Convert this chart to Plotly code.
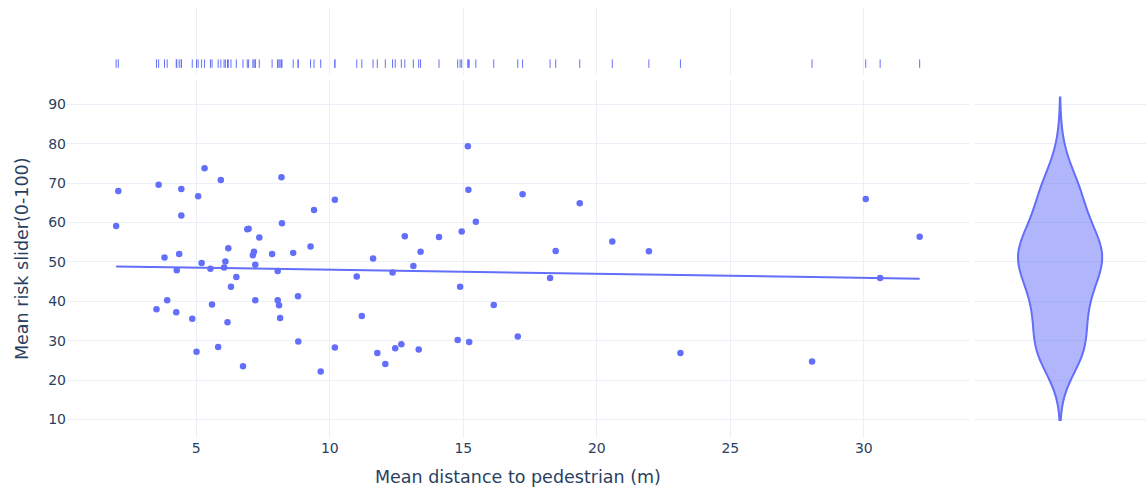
import numpy as np
import pandas as pd
import plotly.express as px
import plotly.graph_objects as go

# Per-participant means: distance to pedestrian (m) and risk slider rating (0-100)
mean_distance = [
    2.08, 2.00, 3.59, 4.44, 5.07, 5.31, 5.92, 8.19, 4.44, 9.41,
    8.21, 6.91, 6.96, 7.36, 6.20, 9.28, 3.81, 4.36, 7.16, 7.12,
    7.84, 8.63, 5.20, 6.09, 7.21, 5.53, 6.04, 4.27, 8.05, 6.50,
    6.30, 3.91, 7.21, 8.05, 8.10, 8.81, 5.59, 3.51, 4.25, 4.85,
    6.17, 8.14, 8.82, 5.01, 5.82, 6.75, 9.66,
    10.19, 10.19, 11.01, 11.20, 11.62, 11.78, 12.08, 12.35, 12.45, 12.68,
    12.81, 13.13, 13.33, 13.40, 14.09, 14.79, 14.88, 14.94, 15.17, 15.19,
    15.22, 15.47, 16.14, 17.04, 17.22,
    18.46, 18.25, 19.36, 20.58, 21.95, 23.13, 28.06, 30.07, 30.61, 32.09,
]
mean_risk = [
    68.0, 59.1, 69.6, 68.5, 66.7, 73.8, 70.8, 71.5, 61.8, 63.2,
    59.8, 58.3, 58.4, 56.2, 53.5, 53.9, 51.1, 52.0, 52.6, 51.7,
    52.0, 52.3, 49.7, 50.1, 49.3, 48.3, 48.6, 47.9, 47.7, 46.2,
    43.7, 40.3, 40.3, 40.3, 39.0, 41.3, 39.2, 38.0, 37.2, 35.6,
    34.7, 35.8, 29.8, 27.2, 28.4, 23.5, 22.2,
    65.8, 28.3, 46.3, 36.3, 50.9, 26.9, 24.1, 47.3, 28.1, 29.1,
    56.5, 49.0, 27.8, 52.6, 56.3, 30.2, 43.7, 57.7, 79.4, 68.3,
    29.7, 60.2, 39.1, 31.1, 67.2,
    52.8, 45.9, 64.9, 55.2, 52.7, 26.9, 24.7, 66.0, 45.9, 56.4,
]

X_COL = "Mean distance to pedestrian (m)"
Y_COL = "Mean risk slider(0-100)"
df = pd.DataFrame({X_COL: mean_distance, Y_COL: mean_risk})

fig = px.scatter(
    df, x=X_COL, y=Y_COL,
    marginal_x="rug", marginal_y="violin",
    template="plotly_white",
    width=1146, height=488,
)
fig.update_traces(marker=dict(size=6.5), selector=dict(type="scatter"))

# Ordinary least-squares trendline over the observed distance range
xs = np.array(mean_distance)
ys = np.array(mean_risk)
slope, intercept = np.polyfit(xs, ys, 1)
x_line = np.sort(xs)
fig.add_trace(
    go.Scatter(
        x=x_line, y=intercept + slope * x_line,
        mode="lines", line=dict(color="#636efa", width=2),
        showlegend=False, hoverinfo="skip",
    ),
    row=1, col=1,
)

fig.update_layout(
    margin=dict(l=67, r=0, t=7, b=50),
    font=dict(family="DejaVu Sans, Verdana, sans-serif", size=14),
    showlegend=False,
)
fig.update_xaxes(title_font=dict(size=17.5), row=1, col=1)
fig.update_yaxes(title_font=dict(size=17.5), row=1, col=1)

fig.write_html("out.html")
